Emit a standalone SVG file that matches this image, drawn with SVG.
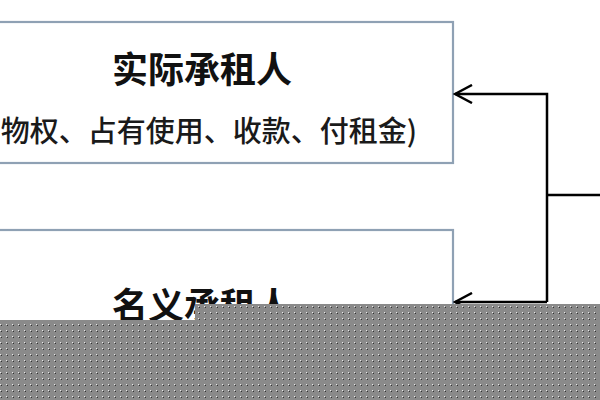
<svg xmlns="http://www.w3.org/2000/svg" width="600" height="400" viewBox="0 0 600 400">
<defs>
<style>
.box{fill:#ffffff;stroke:#8fa1b4;stroke-width:2.2}
.title{font-family:"Noto Sans CJK SC","Noto Sans CJK TC",sans-serif;font-size:36px;font-weight:bold;fill:#111}
.sub{font-family:"Noto Sans CJK SC","Noto Sans CJK TC",sans-serif;font-size:29px;font-weight:500;fill:#1a1a1a}
.edge{fill:none;stroke:#000;stroke-width:2.5}
</style>
<marker id="arr" viewBox="0 0 20 20" refX="18" refY="10" markerWidth="20" markerHeight="20" markerUnits="userSpaceOnUse" orient="auto">
<path d="M1,1 L18,10 L1,19" fill="none" stroke="#000" stroke-width="2.5"/>
</marker>
<pattern id="dither" width="6" height="6" patternUnits="userSpaceOnUse">
<rect width="6" height="6" fill="#8a8a8a"/>
<rect x="0" y="0" width="1" height="1" fill="#e8e8e8"/>
<rect x="1" y="1" width="1" height="1" fill="#333"/>
</pattern>
</defs>
<rect width="600" height="400" fill="#ffffff"/>
<g id="node-actual">
<rect class="box" x="-20" y="22" width="473" height="141"/>
<text class="title" x="202" y="83" text-anchor="middle">实际承租人</text>
<text class="sub" x="417" y="142" text-anchor="end">物权、占有使用、收款、付租金)</text>
</g>
<g id="node-nominal">
<rect class="box" x="-20" y="230" width="473" height="141"/>
<text class="title" x="202" y="319" text-anchor="middle">名义承租人</text>
</g>
<g id="connectors">
<path class="edge" d="M547,195 L600,195"/>
<path class="edge" d="M547,302 L547,94 L455,94" marker-end="url(#arr)"/>
<path class="edge" d="M547,302 L455,302" marker-end="url(#arr)"/>
</g>
<polygon points="0,320 195,320 195,304 600,304 600,400 0,400" fill="url(#dither)"/>
</svg>
